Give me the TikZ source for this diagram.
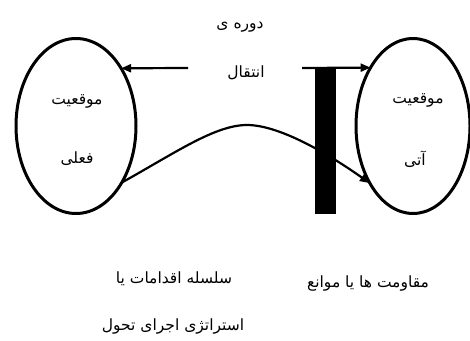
\documentclass[tikz,border=0pt]{standalone}
\usepackage{fontspec}
\usetikzlibrary{shapes.geometric,arrows.meta}
\newfontfamily\arabicfont[Script=Arabic]{DejaVu Sans}
\TeXXeTstate=1
\begin{document}
\begin{tikzpicture}[x=1pt,y=-1pt,
  state/.style={ellipse,draw,line width=3pt,inner sep=0pt,outer sep=0pt,minimum width=#1,minimum height=175pt},
  lbl/.style={font=\arabicfont\fontsize{15.5}{18}\selectfont,inner sep=0pt},
  conn/.style={line width=2.2pt,-{Triangle[length=10pt,width=8pt]}},
  barbox/.style={rectangle,fill=black,inner sep=0pt,outer sep=0pt,minimum width=21pt,minimum height=145pt}]
\useasboundingbox (0,0) rectangle (470,340);
\node[state=120pt] (L) at (76,126) {};
\node[state=114pt] (R) at (413,126) {};
\node[barbox] (B) at (325,141) {};
\node[lbl] (l1) at (77,101) {\beginR موقعیت\endR};
\node[lbl] (l2) at (77,159) {\beginR فعلی\endR};
\node[lbl] (r1) at (418,100) {\beginR موقعیت\endR};
\node[lbl] (r2) at (415,159) {\beginR آتی\endR};
\node[lbl] (t1) at (240,27) {\beginR دوره ی\endR};
\node[lbl] (t2) at (246,73) {\beginR انتقال\endR};
\node[lbl] (b1) at (368,283) {\beginR مقاومت ها یا موانع\endR};
\node[lbl] (b2) at (174,279) {\beginR سلسله اقدامات یا\endR};
\node[lbl] (b3) at (173,326) {\beginR استراتژی اجرای تحول\endR};
\coordinate (a1) at (188,68);
\coordinate (a2) at (302,68);
\coordinate (pk) at (247,125);
\draw[conn] (a1) -- (L.52.2);
\draw[conn] (a2) -- (R.126.6);
\draw[conn] (L.-51.8) .. controls (175,153) and (215,125) .. (pk) .. controls (280,125) and (330,155) .. (R.-127);
\end{tikzpicture}
\end{document}
